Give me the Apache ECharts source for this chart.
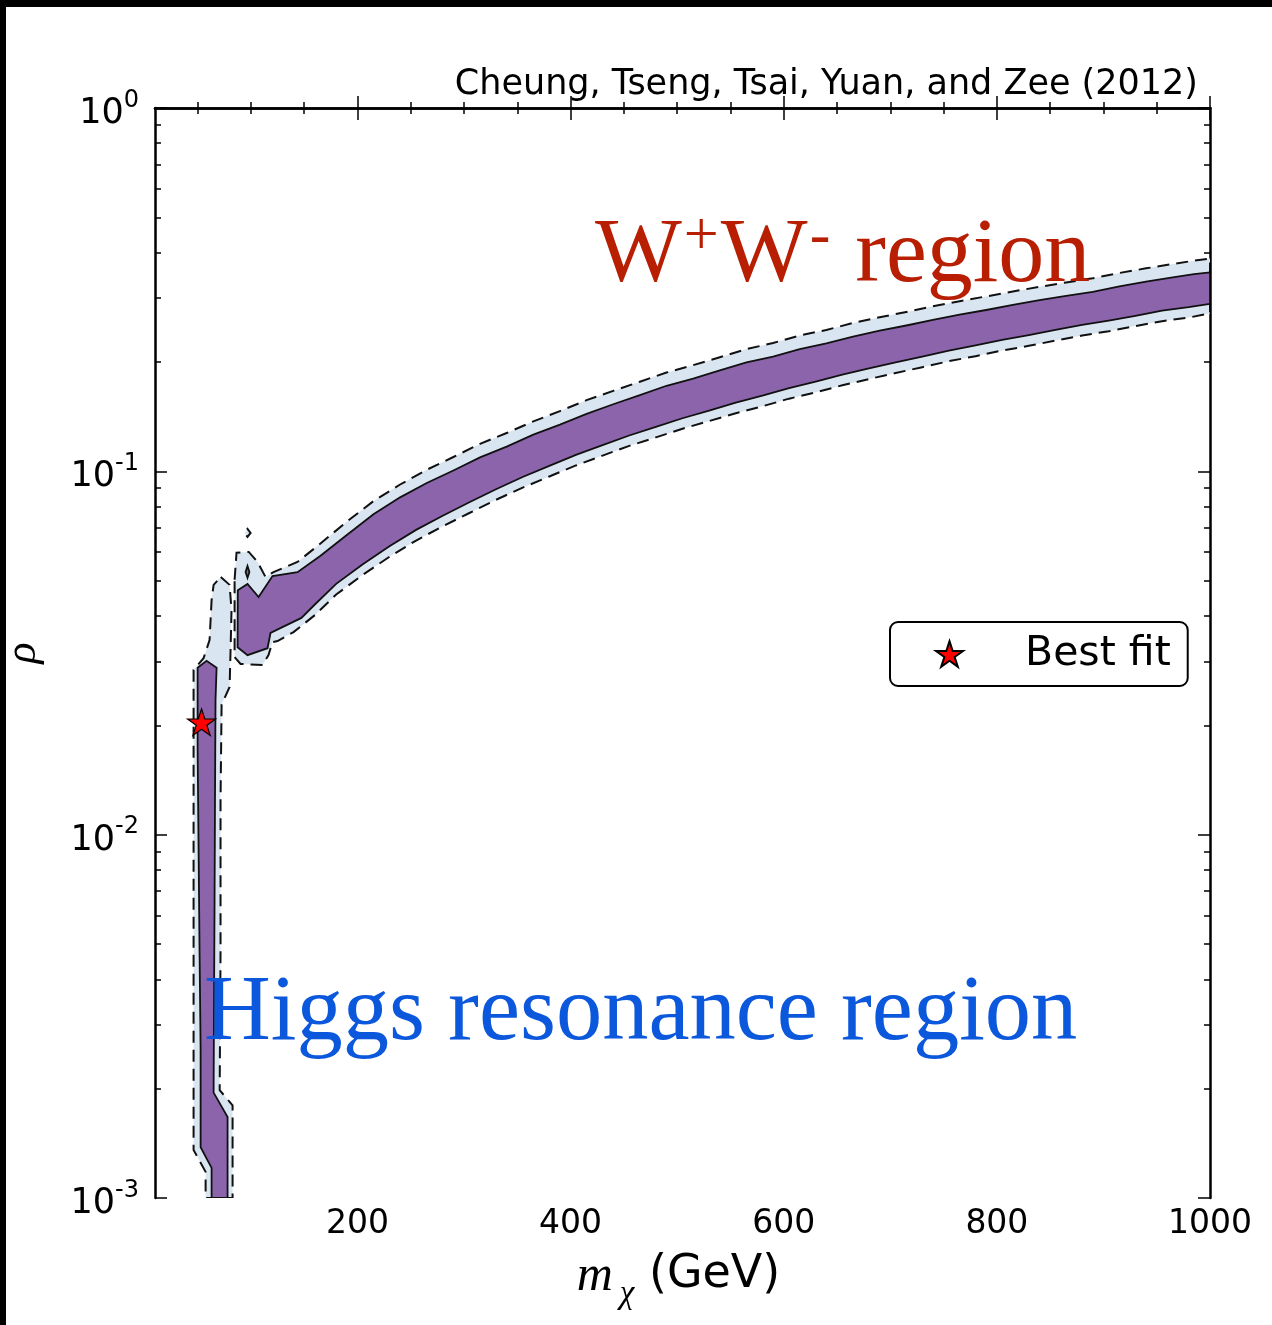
<!DOCTYPE html>
<html><head><meta charset="utf-8">
<script src="https://cdn.jsdelivr.net/npm/echarts@6/dist/echarts.min.js"></script>
<style>html,body{margin:0;padding:0;background:#fff}#c{width:1272px;height:1325px}</style>
</head><body><div id="c"></div>
<script>
// ---------- tick values ----------
const xMajorTicks = [200, 400, 600, 800, 1000];
const xMinorTicks = [50, 100, 150, 250, 300, 350, 450, 500, 550, 650, 700, 750, 850, 900, 950];
const yMinorTicks = [0.002,0.003,0.004,0.005,0.006,0.007,0.008,0.009,
                     0.02,0.03,0.04,0.05,0.06,0.07,0.08,0.09,
                     0.2,0.3,0.4,0.5,0.6,0.7,0.8,0.9];

// ---------- contour boundaries [m_chi (GeV), rho] ----------
// W+W- band, 1 sigma (purple): upper edge left->right
const wwCoreUpper = [[87.7,0.0471],[96.8,0.0490],[107.2,0.0451],[120.3,0.0515],[143.7,0.0528],[165,0.0585],[190,0.0668],[215,0.0762],[240,0.0848],[265,0.0929],[290,0.1005],[315,0.1092],[340,0.1170],[365,0.1262],[390,0.1345],[415,0.1440],[440,0.1530],[465,0.1620],[490,0.1720],[515,0.1800],[540,0.1895],[565,0.1995],[590,0.2070],[615,0.2170],[640,0.2250],[665,0.2350],[690,0.2440],[715,0.2520],[740,0.2610],[765,0.2700],[790,0.2780],[815,0.2870],[840,0.2960],[865,0.3040],[890,0.3120],[915,0.3230],[940,0.3330],[965,0.3420],[985,0.3490],[1000,0.3530]];
// lower edge right->left
const wwCoreLower = [[1000,0.2890],[980,0.2830],[955,0.2770],[930,0.2680],[905,0.2600],[880,0.2530],[855,0.2450],[830,0.2370],[805,0.2300],[780,0.2220],[755,0.2150],[730,0.2070],[705,0.1995],[680,0.1920],[655,0.1845],[630,0.1765],[605,0.1695],[580,0.1615],[555,0.1545],[530,0.1470],[505,0.1400],[480,0.1325],[455,0.1255],[430,0.1180],[405,0.1110],[380,0.1035],[355,0.0965],[330,0.0893],[305,0.0822],[280,0.0755],[255,0.0690],[230,0.0622],[205,0.0555],[180,0.0490],[160,0.0430],[147.4,0.0395],[118.4,0.0359],[115.6,0.0326],[96.8,0.0312],[87.5,0.0328]];
// W+W- band, 2 sigma (light blue): upper edge left->right
const wwHaloUpper = [[84.7,0.0503],[86.5,0.0597],[98.0,0.0600],[106.2,0.0563],[113.7,0.0512],[121.2,0.0528],[143.7,0.0563],[165,0.0632],[190,0.0727],[215,0.0828],[240,0.0920],[265,0.1010],[290,0.1095],[315,0.1190],[340,0.1275],[365,0.1372],[390,0.1465],[415,0.1570],[440,0.1665],[465,0.1765],[490,0.1870],[515,0.1960],[540,0.2060],[565,0.2170],[590,0.2255],[615,0.2365],[640,0.2450],[665,0.2560],[690,0.2655],[715,0.2745],[740,0.2845],[765,0.2940],[790,0.3030],[815,0.3125],[840,0.3220],[865,0.3310],[890,0.3400],[915,0.3515],[940,0.3620],[965,0.3720],[985,0.3800],[1000,0.3850]];
// lower edge right->left
const wwHaloLower = [[1000,0.2720],[980,0.2650],[955,0.2590],[930,0.2510],[905,0.2430],[880,0.2365],[855,0.2290],[830,0.2215],[805,0.2150],[780,0.2075],[755,0.2010],[730,0.1935],[705,0.1865],[680,0.1795],[655,0.1725],[630,0.1650],[605,0.1585],[580,0.1510],[555,0.1445],[530,0.1375],[505,0.1310],[480,0.1240],[455,0.1175],[430,0.1105],[405,0.1038],[380,0.0968],[355,0.0902],[330,0.0835],[305,0.0768],[280,0.0706],[255,0.0645],[230,0.0582],[205,0.0519],[180,0.0458],[160,0.0402],[140,0.0361],[125,0.0341],[120.3,0.0339],[116.5,0.0312],[111,0.0293],[90.3,0.0295],[84.7,0.0308]];
// Higgs resonance strip
const higgsCore = [[50.0,0.0288],[58.4,0.0301],[67.8,0.0288],[66.8,0.0235],[66.3,0.0125],[65.9,0.0066],[65.4,0.0035],[65.0,0.00195],[78.1,0.00167],[78.1,0.0010],[63.1,0.0010],[63.1,0.00121],[52.8,0.00138],[52.8,0.00256],[51.8,0.0048],[50.9,0.0091],[50.0,0.0171]];
const higgsHalo = [[71.7,0.0512],[80.0,0.0487],[81.8,0.0415],[80.9,0.0322],[80.0,0.0255],[72.5,0.0228],[71.5,0.0125],[71.5,0.0048],[70.7,0.00198],[82.8,0.0018],[82.8,0.0010],[57.5,0.0010],[57.5,0.00118],[52.8,0.00125],[46.2,0.001355],[46.2,0.0048],[46.2,0.0125],[46.2,0.0284],[55.6,0.0306],[61.2,0.0343],[63.1,0.0442],[65.0,0.0487]];
// small islands
const islandCore = [[96.8,0.0549],[98.6,0.0528],[96.8,0.0509],[95.0,0.0528]];
const islandHalo = [[96.8,0.0694],[99.7,0.0677],[96.8,0.0660],[94.1,0.0677]];
// best fit point
const bestFit = [[53.7, 0.0204]];

const PURPLE = '#8c64ab', LIGHTBLUE = '#d9e6f1';
const STAR = 'path://M50,0L61.23,34.55L97.55,34.55L68.17,55.9L79.39,90.45L50,69.1L20.61,90.45L31.83,55.9L2.45,34.55L38.77,34.55Z';

function polygonSeries(name, pts, fill, dash, z) {
  return {
    type: 'custom', name: name, coordinateSystem: 'cartesian2d',
    xAxisIndex: 0, yAxisIndex: 0, clip: true, silent: true, z: z,
    data: pts, encode: {x: 0, y: 1},
    renderItem: function (params, api) {
      if (params.dataIndex !== 0) return null;
      const p = pts.map(function (d) { return api.coord(d); });
      return {type: 'polygon', shape: {points: p},
        style: {fill: fill, stroke: '#111', lineWidth: dash ? 2.0 : 1.8, lineDash: dash ? [12, 7] : null}};
    }
  };
}

const ff = 'DejaVu Sans';
const axisLineStyle = {color: '#000', width: 2.5};
function minorLogTicks() { return yMinorTicks.map(function (v) { return Math.log10(v); }); }

const chart = echarts.init(document.getElementById('c'));
chart.setOption({
  animation: false,
  backgroundColor: '#fff',
  title: {text: 'Cheung, Tseng, Tsai, Yuan, and Zee (2012)', right: 74, top: 67, padding: 0,
    textStyle: {fontSize: 35, fontWeight: 'normal', fontFamily: ff, color: '#000'}},
  grid: {left: 155, top: 108, right: 62, bottom: 127, containLabel: false, outerBoundsMode: 'none'},
  legend: {
    data: [{name: 'Best fit', icon: STAR}], left: 890, top: 622, orient: 'horizontal',
    padding: [9, 17, 9, 45], itemWidth: 27, itemHeight: 27,
    borderColor: '#000', borderWidth: 2, borderRadius: 8, backgroundColor: '#fff',
    selectedMode: false,
    textStyle: {fontSize: 41, fontFamily: ff, color: '#000', lineHeight: 46, padding: [0, 0, 0, 57]}
  },
  xAxis: [
    {type: 'value', min: 10, max: 1000, position: 'bottom',
      axisLine: {show: true, lineStyle: axisLineStyle}, splitLine: {show: false},
      axisTick: {inside: true, length: 12, customValues: xMajorTicks, lineStyle: {width: 1.5, color: '#000'}},
      axisLabel: {customValues: xMajorTicks, margin: 10, fontSize: 33, fontFamily: ff, color: '#000',
        formatter: function (v) { return String(v); }},
      name: '{m|m}{c|χ}{g| (GeV)}', nameLocation: 'middle', nameGap: 54,
      nameTextStyle: {padding: [0, 8, 0, 0], rich: {
        m: {fontSize: 50, fontFamily: 'Liberation Serif', fontStyle: 'italic', color: '#000', verticalAlign: 'top', lineHeight: 52},
        c: {fontSize: 33, fontFamily: 'Liberation Serif', fontStyle: 'italic', color: '#000', verticalAlign: 'top', lineHeight: 36, padding: [26, 0, 0, 7]},
        g: {fontSize: 46, fontFamily: ff, color: '#000', verticalAlign: 'top', lineHeight: 52}
      }}},
    {type: 'value', min: 10, max: 1000, position: 'bottom',
      axisLine: {show: false}, splitLine: {show: false}, axisLabel: {show: false},
      axisTick: {inside: true, length: 6, customValues: xMinorTicks, lineStyle: {width: 1.5, color: '#000'}}},
    {type: 'value', min: 10, max: 1000, position: 'top',
      axisLine: {show: true, lineStyle: axisLineStyle}, splitLine: {show: false}, axisLabel: {show: false},
      axisTick: {inside: true, length: 12, customValues: xMajorTicks, lineStyle: {width: 1.5, color: '#000'}}},
    {type: 'value', min: 10, max: 1000, position: 'top',
      axisLine: {show: false}, splitLine: {show: false}, axisLabel: {show: false},
      axisTick: {inside: true, length: 6, customValues: xMinorTicks, lineStyle: {width: 1.5, color: '#000'}}}
  ],
  yAxis: [
    {type: 'log', logBase: 10, min: 0.001, max: 1, position: 'left',
      axisLine: {show: true, lineStyle: axisLineStyle}, splitLine: {show: false},
      axisTick: {inside: true, length: 12, lineStyle: {width: 1.5, color: '#000'}},
      axisLabel: {margin: 16, padding: [9, 0, 0, 0],
        formatter: function (v) { return '{b|10}{s|' + Math.round(Math.log10(v)) + '}'; },
        rich: {
          b: {fontSize: 35, fontFamily: ff, color: '#000', verticalAlign: 'bottom', lineHeight: 38},
          s: {fontSize: 24, fontFamily: ff, color: '#000', verticalAlign: 'bottom', lineHeight: 28, padding: [0, 0, 19, 0]}
        }},
      name: 'ρ', nameLocation: 'middle', nameRotate: 90, nameGap: 110,
      nameTextStyle: {fontSize: 44, fontFamily: 'Liberation Serif', fontStyle: 'italic', color: '#000'}},
    {type: 'value', min: -3, max: 0, position: 'left',
      axisLine: {show: false}, splitLine: {show: false}, axisLabel: {show: false},
      axisTick: {inside: true, length: 6, customValues: minorLogTicks(), lineStyle: {width: 1.5, color: '#000'}}},
    {type: 'log', logBase: 10, min: 0.001, max: 1, position: 'right',
      axisLine: {show: true, lineStyle: axisLineStyle}, splitLine: {show: false}, axisLabel: {show: false},
      axisTick: {inside: true, length: 12, lineStyle: {width: 1.5, color: '#000'}}},
    {type: 'value', min: -3, max: 0, position: 'right',
      axisLine: {show: false}, splitLine: {show: false}, axisLabel: {show: false},
      axisTick: {inside: true, length: 6, customValues: minorLogTicks(), lineStyle: {width: 1.5, color: '#000'}}}
  ],
  series: [
    polygonSeries('ww2s', wwHaloUpper.concat(wwHaloLower), LIGHTBLUE, true, 1),
    polygonSeries('h2s', higgsHalo, LIGHTBLUE, true, 1),
    polygonSeries('i2s', islandHalo, LIGHTBLUE, true, 1),
    polygonSeries('ww1s', wwCoreUpper.concat(wwCoreLower), PURPLE, false, 2),
    polygonSeries('h1s', higgsCore, PURPLE, false, 2),
    polygonSeries('i1s', islandCore, PURPLE, false, 2),
    {type: 'scatter', name: 'Best fit', data: bestFit, xAxisIndex: 0, yAxisIndex: 0,
      symbol: STAR, symbolSize: 28, symbolKeepAspect: true, z: 10,
      itemStyle: {color: '#ff0000', borderColor: '#000', borderWidth: 1.2, opacity: 1}}
  ],
  graphic: [
    {type: 'rect', left: 0, top: 0, shape: {width: 1272, height: 7}, style: {fill: '#000'}, z: 100},
    {type: 'rect', left: 0, top: 0, shape: {width: 6, height: 1325}, style: {fill: '#000'}, z: 100},
    {type: 'text', left: 593, top: 207, z: 50, style: {
      text: '{a|W}{p|+}{a|W}{q|-}{a| region}',
      rich: {
        a: {fontSize: 92, fontFamily: 'Liberation Serif', fill: '#b81e02', verticalAlign: 'bottom', lineHeight: 100, padding: [0, 2, 0, 2]},
        p: {fontSize: 62, fontFamily: 'Liberation Serif', fill: '#b81e02', verticalAlign: 'bottom', lineHeight: 64, padding: [0, 0, 34, 0]},
        q: {fontSize: 62, fontFamily: 'Liberation Serif', fill: '#b81e02', verticalAlign: 'bottom', lineHeight: 64, padding: [0, 0, 34, 0]}
      }}},
    {type: 'text', left: 204, top: 968, z: 50, style: {
      text: 'Higgs resonance region', fontSize: 92.5, fontFamily: 'Liberation Serif', fill: '#0c58dc'}}
  ]
});
</script></body></html>
